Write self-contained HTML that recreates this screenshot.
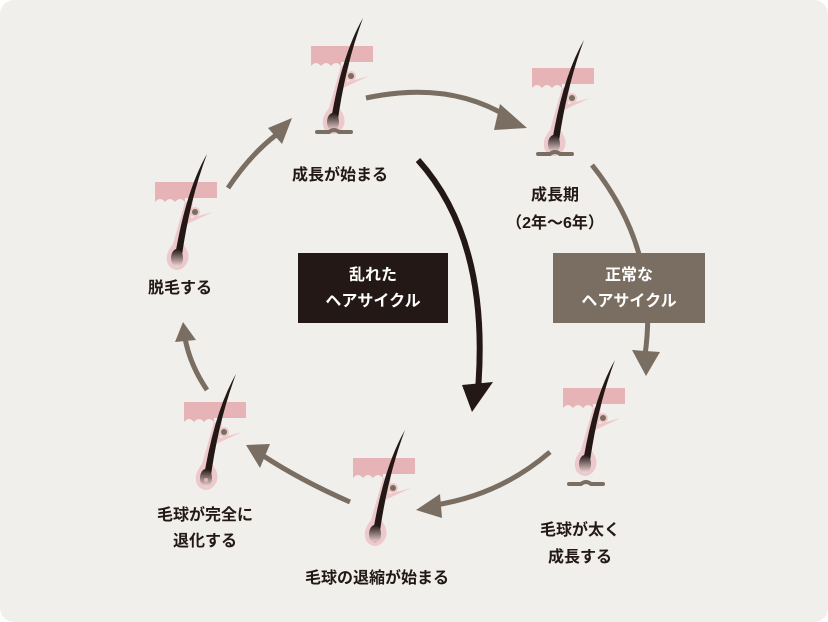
<!DOCTYPE html>
<html><head><meta charset="utf-8"><style>
body{margin:0;background:#fff}
svg{display:block}
text{font-family:"Liberation Sans","Noto Sans CJK JP",sans-serif;font-size:16px;fill:#231815;font-weight:bold}
</style></head><body>
<svg width="828" height="622" viewBox="0 0 828 622">
<defs>
<linearGradient id="bulb" x1="0" y1="0" x2="0" y2="1"><stop offset="0" stop-color="#231815"/><stop offset="1" stop-color="#f3dadb"/></linearGradient>
<g id="hair">
 <path d="M0 0H62V16H0Z" fill="#e6b3b6"/>
 <path d="M0 16 v4 q5 -6 10 0 q5 -6 10 0 q5 -6 10 0 v-4z" fill="#e6b3b6"/>
 <path d="M38 18 L30 20 L18 62 q-10 12 -4 22 q8 8 16 0 q8 -10 -2 -22 L32 42 L58 30 L36 36 Z" fill="#eec9cb"/>
 <circle cx="40" cy="30" r="5" fill="#eec9cb"/>
 <circle cx="40" cy="30" r="3" fill="#7a6e62"/>
 <path d="M52 -28 Q30 10 19 80 L26 80 Q34 20 52 -28Z" fill="#231815"/>
 <ellipse cx="22" cy="76" rx="6" ry="9" fill="url(#bulb)"/>
</g>
<path id="base" d="M0 4 h12 q5 -4 10 0 h12" stroke="#7a6e62" stroke-width="4" fill="none" stroke-linecap="round"/>
</defs>
<rect width="828" height="622" rx="14" fill="#f0efeb"/>
<use href="#hair" x="311" y="46"/>
<use href="#base" x="317" y="128"/>
<use href="#hair" x="532" y="68"/>
<use href="#base" x="538" y="150"/>
<use href="#hair" x="155" y="182"/>
<use href="#hair" x="563" y="388"/>
<use href="#base" x="569" y="480"/>
<use href="#hair" x="353" y="458"/>
<circle cx="375" cy="541" r="2" fill="#e6b3b6"/>
<use href="#hair" x="184" y="402"/>
<circle cx="206" cy="480" r="2" fill="#e6b3b6"/>
<g fill="none" stroke="#7a6e62" stroke-width="5">
<path d="M366 98 Q450 80 510 118"/>
<path d="M592 165 Q660 250 645 355"/>
<path d="M550 452 Q500 495 435 505"/>
<path d="M350 502 Q300 480 262 455"/>
<path d="M207 390 Q190 365 185 338"/>
<path d="M228 188 Q250 155 276 135"/>
</g>
<g fill="#7a6e62">
<polygon points="500,104 527,128 494,130"/>
<polygon points="632,350 660,352 646,376"/>
<polygon points="440,494 416,510 442,518"/>
<polygon points="270,444 246,445 260,468"/>
<polygon points="175,342 183,322 196,340"/>
<polygon points="268,128 292,118 282,144"/>
</g>
<path d="M418 160 Q490 240 478 390" fill="none" stroke="#231815" stroke-width="6"/>
<polygon points="462,385 493,382 472,412" fill="#231815"/>
<rect x="298" y="253" width="150" height="70" fill="#231815"/>
<rect x="553" y="253" width="152" height="70" fill="#7a6e62"/>
<text x="373" y="280" text-anchor="middle" style="fill:#fff">乱れた</text>
<text x="373" y="306" text-anchor="middle" style="fill:#fff">ヘアサイクル</text>
<text x="629" y="280" text-anchor="middle" style="fill:#fff">正常な</text>
<text x="629" y="306" text-anchor="middle" style="fill:#fff">ヘアサイクル</text>
<text x="340" y="180" text-anchor="middle">成長が始まる</text>
<text x="555" y="200" text-anchor="middle">成長期</text>
<text x="555" y="228" text-anchor="middle">（2年～6年）</text>
<text x="180" y="293" text-anchor="middle">脱毛する</text>
<text x="205" y="520" text-anchor="middle">毛球が完全に</text>
<text x="205" y="546" text-anchor="middle">退化する</text>
<text x="377" y="583" text-anchor="middle">毛球の退縮が始まる</text>
<text x="580" y="535" text-anchor="middle">毛球が太く</text>
<text x="580" y="562" text-anchor="middle">成長する</text>
</svg>
</body></html>
